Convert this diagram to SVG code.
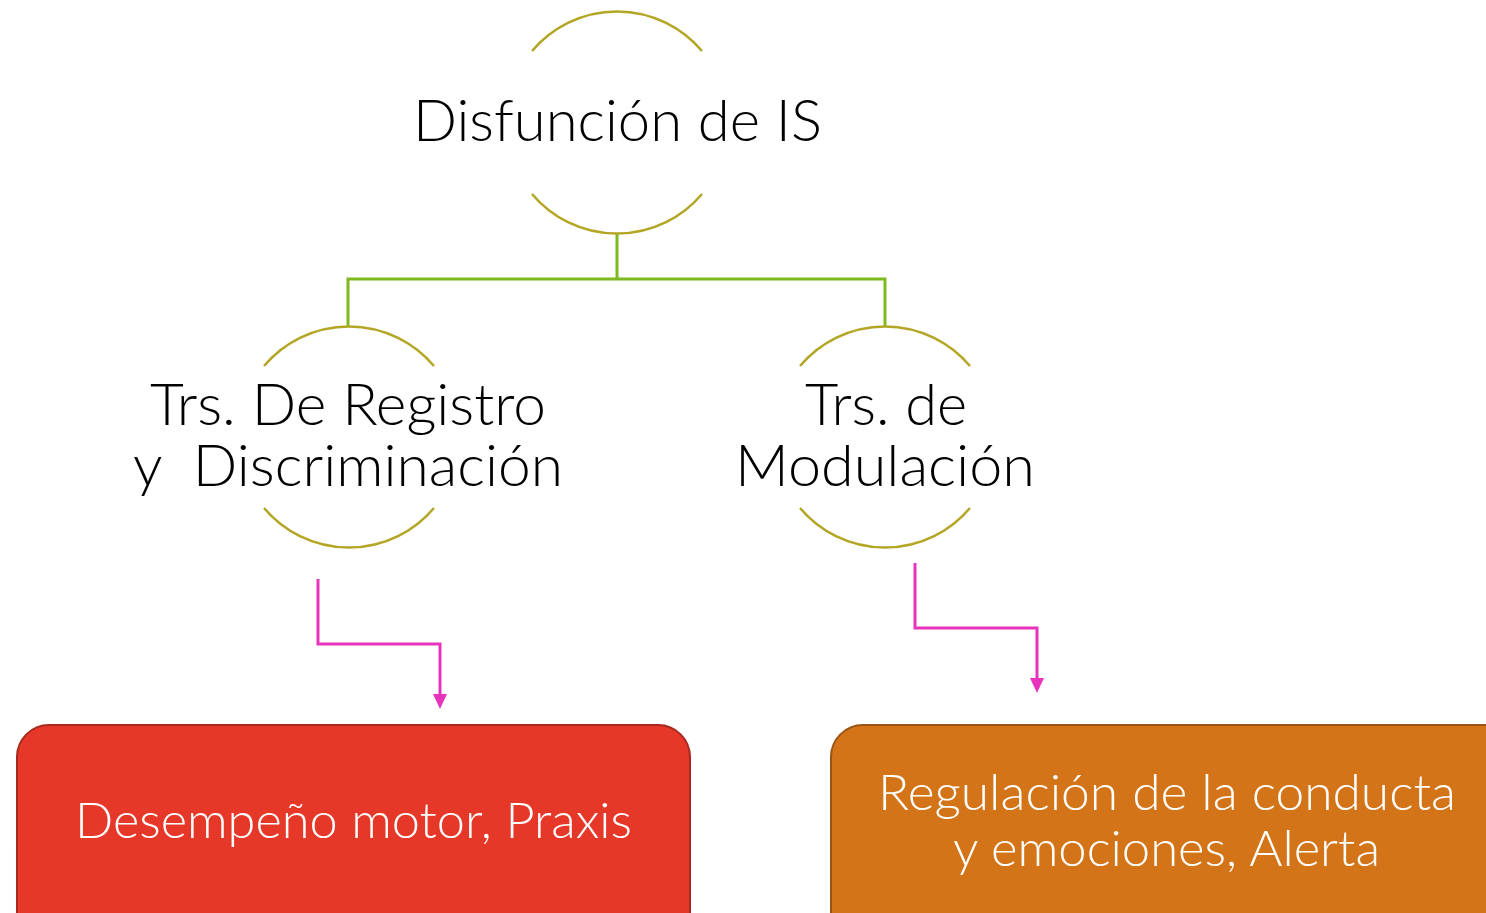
<svg xmlns="http://www.w3.org/2000/svg" width="1486" height="913" viewBox="0 0 1486 913">
<defs>
<style>
.arc{fill:none;stroke:#B3A625;stroke-width:2.5}
.tree{fill:none;stroke:#7DB91F;stroke-width:3}
.pink{fill:none;stroke:#E834BD;stroke-width:3}
.lbl{font-family:Lato,"Noto Sans",sans-serif;font-weight:300;fill:#000}
.wlbl{font-family:Lato,"Noto Sans",sans-serif;font-weight:300;fill:#fff}
</style>
</defs>
<rect width="1486" height="913" fill="#fff"/>
<g id="connectors">
<path class="tree" d="M617,233 V279 M348,326 V279 H885 V326"/>
<path class="pink" d="M318,579 V644 H440 V696"/>
<polygon points="433,694 447,694 440,709" fill="#E834BD"/>
<path class="pink" d="M915,563 V628 H1037 V680"/>
<polygon points="1030,678 1044,678 1037,693" fill="#E834BD"/>
</g>
<g id="node-disfuncion">
<path class="arc" d="M532,51 A111,111 0 0 1 702,51"/>
<path class="arc" d="M532,194 A111,111 0 0 0 702,194"/>
<text class="lbl" x="413" y="141" font-size="57" textLength="409" lengthAdjust="spacingAndGlyphs">Disfunción de IS</text>
</g>
<g id="node-registro">
<path class="arc" d="M264,366 A111,111 0 0 1 434,366"/>
<path class="arc" d="M264,508 A111,111 0 0 0 434,508"/>
<text class="lbl" font-size="57" xml:space="preserve"><tspan x="150" y="425" textLength="396" lengthAdjust="spacingAndGlyphs">Trs. De Registro</tspan><tspan x="133" y="486" textLength="430" lengthAdjust="spacingAndGlyphs">y  Discriminación</tspan></text>
</g>
<g id="node-modulacion">
<path class="arc" d="M800,366 A111,111 0 0 1 970,366"/>
<path class="arc" d="M800,508 A111,111 0 0 0 970,508"/>
<text class="lbl" font-size="57"><tspan x="805" y="425" textLength="162" lengthAdjust="spacingAndGlyphs">Trs. de</tspan><tspan x="735" y="486" textLength="300" lengthAdjust="spacingAndGlyphs">Modulación</tspan></text>
</g>
<g id="node-desempeno">
<rect x="17" y="725" width="673" height="220" rx="32" fill="#E63828" stroke="#A82A1E" stroke-width="2"/>
<text class="wlbl" x="75" y="838" font-size="49" textLength="557" lengthAdjust="spacingAndGlyphs">Desempeño motor, Praxis</text>
</g>
<g id="node-regulacion">
<rect x="831" y="725" width="700" height="220" rx="32" fill="#D47418" stroke="#9A5516" stroke-width="2"/>
<text class="wlbl" font-size="49"><tspan x="878" y="810" textLength="578" lengthAdjust="spacingAndGlyphs">Regulación de la conducta</tspan><tspan x="953" y="866" textLength="427" lengthAdjust="spacingAndGlyphs">y emociones, Alerta</tspan></text>
</g>
</svg>
